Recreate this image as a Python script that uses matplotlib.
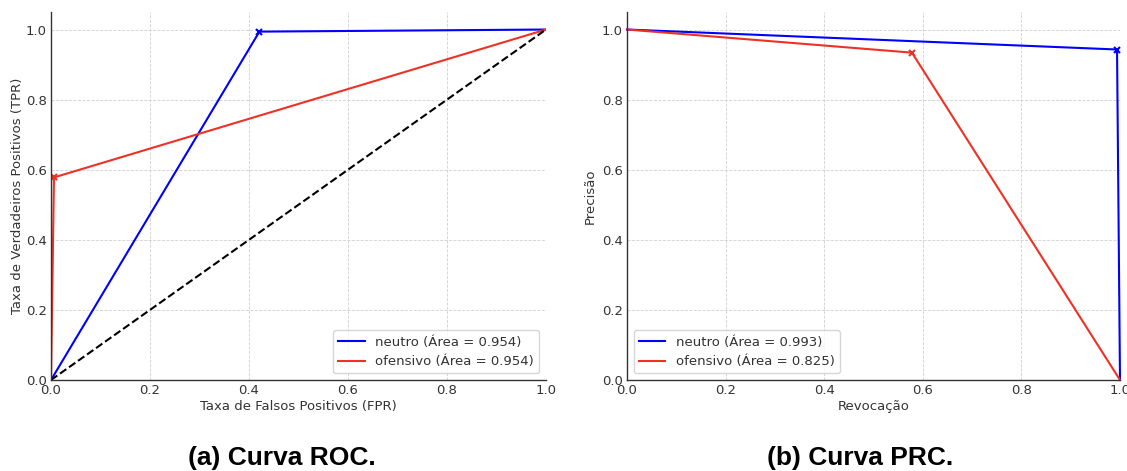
import matplotlib.pyplot as plt

# ROC curve points
roc_fpr_neutro = [0.0, 0.421, 1.0]
roc_tpr_neutro = [0.0, 0.994, 1.0]
roc_fpr_ofensivo = [0.0, 0.006, 1.0]
roc_tpr_ofensivo = [0.0, 0.578, 1.0]

# PRC curve points
prc_rec_neutro = [0.0, 0.994, 1.0]
prc_prec_neutro = [1.0, 0.943, 0.0]
prc_rec_ofensivo = [0.0, 0.578, 1.0]
prc_prec_ofensivo = [1.0, 0.934, 0.0]

labels_roc = ["neutro (Área = 0.954)", "ofensivo (Área = 0.954)"]
labels_prc = ["neutro (Área = 0.993)", "ofensivo (Área = 0.825)"]
ticks = [0.0, 0.2, 0.4, 0.6, 0.8, 1.0]

BLUE = "#0000ff"
RED = "#ee3124"
FS = 9.5

plt.rcParams["font.family"] = "DejaVu Sans"
plt.rcParams["font.size"] = FS

fig = plt.figure(figsize=(11.27, 4.71), dpi=100)
ax1 = fig.add_axes([51 / 1127, 91 / 471, 495 / 1127, 368 / 471])
ax2 = fig.add_axes([627 / 1127, 91 / 471, 493 / 1127, 368 / 471])


def style(ax):
    ax.set_xlim(0, 1)
    ax.set_ylim(0, 1.05)
    ax.set_xticks(ticks)
    ax.set_yticks(ticks)
    ax.tick_params(length=0, labelsize=FS, colors="#333333", pad=3)
    for s in ["top", "right"]:
        ax.spines[s].set_visible(False)
    for s in ["left", "bottom"]:
        ax.spines[s].set_color("#333333")
        ax.spines[s].set_linewidth(1.0)
    ax.grid(True, linestyle="--", linewidth=0.6, color="#d0d0d0")
    ax.set_axisbelow(True)


# (a) ROC
style(ax1)
ax1.plot(roc_fpr_neutro, roc_tpr_neutro, color=BLUE, lw=1.5, label=labels_roc[0])
ax1.plot(roc_fpr_ofensivo, roc_tpr_ofensivo, color=RED, lw=1.5, label=labels_roc[1])
ax1.plot(roc_fpr_neutro[1], roc_tpr_neutro[1], "x", color=BLUE, ms=5, mew=1.5)
ax1.plot(roc_fpr_ofensivo[1], roc_tpr_ofensivo[1], "x", color=RED, ms=5, mew=1.5)
ax1.plot([0, 1], [0, 1], "k--", lw=1.5)
ax1.set_xlabel("Taxa de Falsos Positivos (FPR)", color="#333333", labelpad=2)
ax1.set_ylabel("Taxa de Verdadeiros Positivos (TPR)", color="#333333", labelpad=1)
ax1.legend(loc="lower right", fontsize=FS, frameon=True, edgecolor="#cccccc",
           labelcolor="#333333")

# (b) PRC
style(ax2)
ax2.plot(prc_rec_neutro, prc_prec_neutro, color=BLUE, lw=1.5, label=labels_prc[0], clip_on=False)
ax2.plot(prc_rec_ofensivo, prc_prec_ofensivo, color=RED, lw=1.5, label=labels_prc[1], clip_on=False)
ax2.plot(prc_rec_neutro[1], prc_prec_neutro[1], "x", color=BLUE, ms=5, mew=1.5)
ax2.plot(prc_rec_ofensivo[1], prc_prec_ofensivo[1], "x", color=RED, ms=5, mew=1.5)
ax2.set_xlabel("Revocação", color="#333333", labelpad=2)
ax2.set_ylabel("Precisão", color="#333333", labelpad=4)
ax2.legend(loc="lower left", fontsize=FS, frameon=True, edgecolor="#cccccc",
           labelcolor="#333333")

fig.text(282 / 1127, 1 - 458 / 471, "(a) Curva ROC.", ha="center", va="center",
         fontsize=19, fontweight="bold", family="Liberation Sans")
fig.text(860 / 1127, 1 - 458 / 471, "(b) Curva PRC.", ha="center", va="center",
         fontsize=19, fontweight="bold", family="Liberation Sans")

fig.savefig("out.png", dpi=100)
